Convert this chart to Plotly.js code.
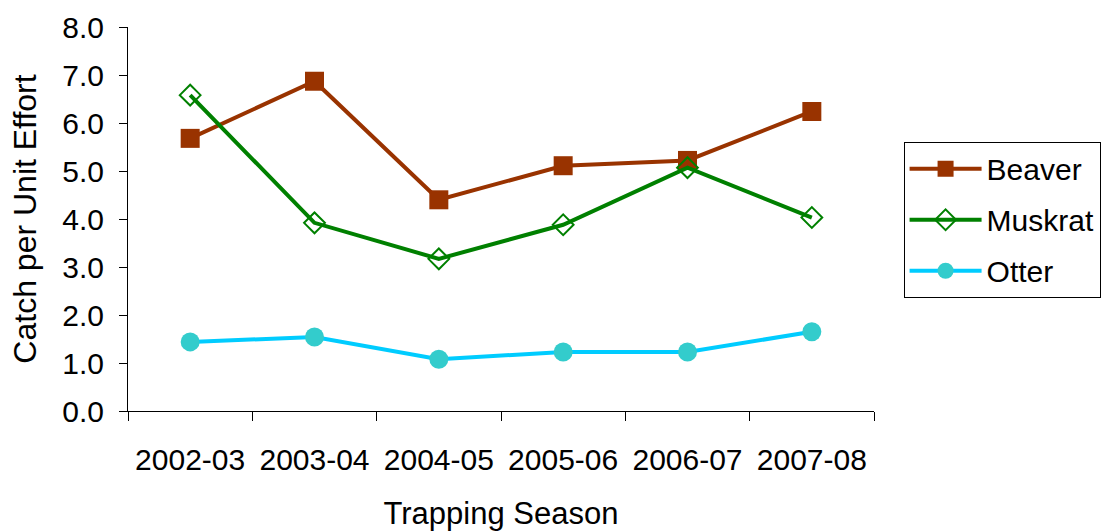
<!DOCTYPE html>
<html>
<head>
<meta charset="utf-8">
<script src="https://cdn.plot.ly/plotly-3.0.1.min.js"></script>
<style>html,body{margin:0;padding:0;background:#fff;}#chart{width:1108px;height:531px;}</style>
</head>
<body>
<div id="chart"></div>
<script>
const seasons = ["2002-03","2003-04","2004-05","2005-06","2006-07","2007-08"];
const beaver  = [5.68, 6.87, 4.40, 5.11, 5.22, 6.24];
const muskrat = [6.58, 3.92, 3.17, 3.88, 5.07, 4.03];
const otter   = [1.44, 1.54, 1.08, 1.23, 1.23, 1.65];
const yTicks  = [0,1,2,3,4,5,6,7,8];

const font = "Liberation Sans, Arial, sans-serif";

const traces = [
  {x: seasons, y: beaver, name: "Beaver", legendgroup: "b", type: "scatter", mode: "lines+markers",
   line: {color: "#993300", width: 4},
   marker: {symbol: "square", size: 19, color: "#993300"}},
  {x: seasons, y: muskrat, name: "Muskrat", legendgroup: "m", type: "scatter", mode: "lines+markers",
   line: {color: "#008000", width: 4},
   marker: {symbol: "diamond-open", size: 16, color: "#008000", line: {color: "#008000", width: 2}}},
  {x: seasons, y: otter, name: "Otter", legendgroup: "o", type: "scatter", mode: "lines+markers",
   line: {color: "#00CCFF", width: 4},
   marker: {symbol: "circle", size: 19, color: "#33CCCC"}}
];

const layout = {
  width: 1108, height: 531,
  paper_bgcolor: "#fff", plot_bgcolor: "#fff",
  margin: {l: 128, r: 234, t: 27, b: 120},
  font: {family: font, size: 30, color: "#000"},
  showlegend: true,
  legend: {xref: "container", yref: "container", x: 0.8155, y: 0.733, xanchor: "left", yanchor: "top",
           bordercolor: "#000", borderwidth: 1, bgcolor: "#fff",
           font: {family: font, size: 30, color: "#000"}, itemwidth: 72, tracegroupgap: 9},
  xaxis: {type: "category", range: [-0.5, 5.5], showline: true, linecolor: "#000", linewidth: 1,
          ticks: "outside", ticklen: 9, tickcolor: "#000", tickson: "boundaries",
          showgrid: false, zeroline: false, ticklabelstandoff: 22,
          tickfont: {family: font, size: 30, color: "#000"},
          title: {text: "Trapping Season", font: {family: font, size: 31, color: "#000"}, standoff: 27}},
  yaxis: {range: [0, 8], tickvals: yTicks, tickformat: ".1f", showline: true, linecolor: "#000", linewidth: 1,
          ticks: "outside", ticklen: 8, tickcolor: "#000", showgrid: false, zeroline: false,
          ticklabelstandoff: 9,
          tickfont: {family: font, size: 30, color: "#000"},
          title: {text: "Catch per Unit Effort", font: {family: font, size: 32, color: "#000"}, standoff: 16}}
};

Plotly.newPlot("chart", traces, layout, {displayModeBar: false, staticPlot: true});
</script>
</body>
</html>
